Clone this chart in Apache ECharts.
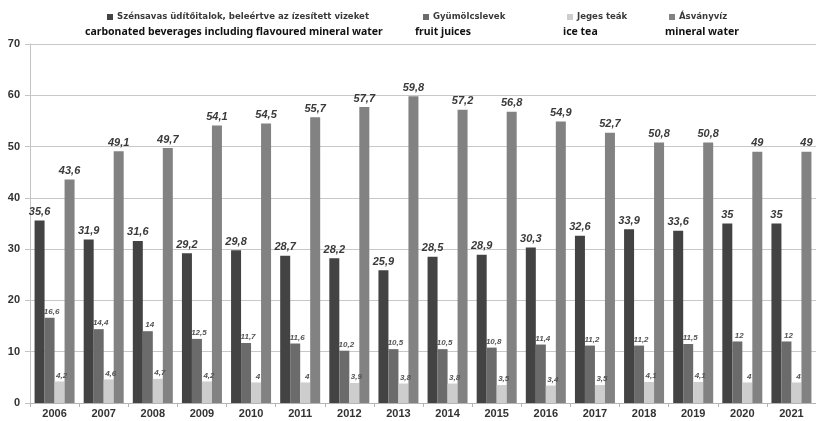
<!DOCTYPE html>
<html>
<head>
<meta charset="utf-8">
<script src="https://cdn.jsdelivr.net/npm/echarts@6/dist/echarts.min.js"></script>
<style>html,body{margin:0;padding:0;background:#fff}#c{width:816px;height:421px}</style>
</head>
<body>
<div id="c"></div>
<script>
const years = ['2006','2007','2008','2009','2010','2011','2012','2013','2014','2015','2016','2017','2018','2019','2020','2021'];
const carbonated = [35.6,31.9,31.6,29.2,29.8,28.7,28.2,25.9,28.5,28.9,30.3,32.6,33.9,33.6,35,35];
const fruitJuices = [16.6,14.4,14,12.5,11.7,11.6,10.2,10.5,10.5,10.8,11.4,11.2,11.2,11.5,12,12];
const iceTea = [4.2,4.6,4.7,4.2,4,4,3.9,3.8,3.8,3.5,3.4,3.5,4.1,4.1,4,4];
const mineralWater = [43.6,49.1,49.7,54.1,54.5,55.7,57.7,59.8,57.2,56.8,54.9,52.7,50.8,50.8,49,49];
const seriesNames = ['Szénsavas üdítőitalok, beleértve az ízesített vizeket','Gyümölcslevek','Jeges teák','Ásványvíz'];
const englishNames = ['carbonated beverages including flavoured mineral water','fruit juices','ice tea','mineral water'];
const colors = ['#434343','#6b6b6b','#cdcdcd','#828282'];

const fmt = p => String(p.value).replace('.', ',');
const bigLabel = {show:true, position:'top', distance:3, formatter:fmt, fontFamily:'Liberation Sans', fontWeight:'bold', fontStyle:'italic', fontSize:11, color:'#3a3a3a'};
const smallLabel = {show:true, position:'top', distance:2, offset:[2,0], formatter:fmt, fontFamily:'Liberation Sans', fontWeight:'bold', fontStyle:'italic', fontSize:8, color:'#555'};

const legendLefts = [102, 418, 562, 664];
const engLefts = [85, 415, 563, 665];

const chart = echarts.init(document.getElementById('c'));
chart.setOption({
  animation:false,
  backgroundColor:'#fff',
  color: colors,
  legend: seriesNames.map((n,i)=>({
    data:[n], left:legendLefts[i], top:7, icon:'rect', itemWidth:6, itemHeight:6, itemGap:5,
    selectedMode:false,
    textStyle:{fontFamily:'DejaVu Sans Condensed, Liberation Sans', fontWeight:'bold', fontSize:9.5, color:'#3a3a3a', padding:[0,0,0,-1]}
  })),
  graphic: englishNames.map((t,i)=>({
    type:'text', left:engLefts[i], top:27,
    style:{text:t, fontFamily:'Noto Sans', fontWeight:'bold', fontSize:10.5, fill:'#111'}
  })),
  grid:{left:30, right:-7, top:44, bottom:18, containLabel:false},
  xAxis:{
    type:'category', data:years,
    axisLine:{lineStyle:{color:'#b5b5b5'}},
    axisTick:{show:true, alignWithLabel:false, length:4, lineStyle:{color:'#b5b5b5'}},
    axisLabel:{fontFamily:'Liberation Sans', fontWeight:'bold', fontSize:11, color:'#333', margin:5}
  },
  yAxis:{
    type:'value', min:0, max:70, interval:10,
    axisLine:{show:true, lineStyle:{color:'#c4c4c4'}},
    axisTick:{show:true, length:5, lineStyle:{color:'#c4c4c4'}},
    splitLine:{lineStyle:{color:'#c8c8c8'}},
    axisLabel:{fontFamily:'Liberation Sans', fontWeight:'bold', fontSize:11, color:'#333', margin:10}
  },
  series:[
    {name:seriesNames[0], type:'bar', data:carbonated, barWidth:10, barGap:'0%', label:bigLabel},
    {name:seriesNames[1], type:'bar', data:fruitJuices, barWidth:10, barGap:'0%', label:smallLabel},
    {name:seriesNames[2], type:'bar', data:iceTea, barWidth:10, barGap:'0%', label:smallLabel},
    {name:seriesNames[3], type:'bar', data:mineralWater, barWidth:10, barGap:'0%', label:bigLabel}
  ]
});
</script>
</body>
</html>
